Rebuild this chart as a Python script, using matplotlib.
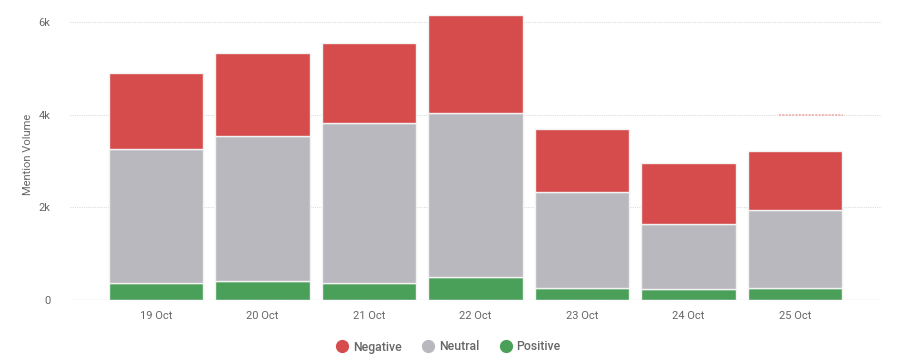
import matplotlib
matplotlib.use("Agg")
import matplotlib.pyplot as plt
from matplotlib.lines import Line2D
import numpy as np

plt.rcParams['font.family'] = ['Roboto', 'DejaVu Sans']

days = ["19 Oct", "20 Oct", "21 Oct", "22 Oct", "23 Oct", "24 Oct", "25 Oct"]
positive = [374, 417, 374, 504, 259, 237, 259]
neutral = [2878, 3130, 3439, 3525, 2065, 1410, 1691]
negative = [1641, 1777, 1727, 2129, 1359, 1317, 1273]
y_ticks = [0, 2000, 4000, 6000]
y_tick_labels = ["0", "2k", "4k", "6k"]

colors = {"Negative": "#d64b4b", "Neutral": "#b9b8bf", "Positive": "#4aa058"}
text_color = "#666666"

fig = plt.figure(figsize=(8.97, 3.6), dpi=100)
ax = fig.add_axes([0.078, 0.1667, 0.904, 0.8108])

x = np.arange(len(days))
pos = np.array(positive)
neu = np.array(neutral)
neg = np.array(negative)
w = 0.89
edge = dict(edgecolor="#f2f2f2", linewidth=1.0)
ax.bar(x, pos, w, color=colors["Positive"], zorder=3, **edge)
ax.bar(x, neu, w, bottom=pos, color=colors["Neutral"], zorder=3, **edge)
ax.bar(x, neg, w, bottom=pos + neu, color=colors["Negative"], zorder=3, **edge)

ax.set_xlim(-0.807, len(days) - 1 + 0.807)
ax.set_ylim(0, 6300)

# grid
for yv in y_ticks[1:]:
    ax.axhline(yv, color="#dddddd", linewidth=0.8, linestyle=(0, (1, 1)), zorder=1)
ax.axhline(0, color="#aab4dc", linewidth=0.9, linestyle=(0, (1, 1)), zorder=4)
# highlighted reference marker
ax.hlines(4000, 5.85, 6.45, color="#efb5b5", linewidth=1.4, linestyle=(0, (1, 0.7)), zorder=2)

for s in ax.spines.values():
    s.set_visible(False)
ax.set_xticks(x)
ax.set_xticklabels(days)
ax.set_yticks(y_ticks)
ax.set_yticklabels(y_tick_labels)
ax.tick_params(axis="both", length=0, labelsize=8, colors=text_color)
ax.tick_params(axis="x", pad=8)
ax.tick_params(axis="y", pad=14)
ax.set_ylabel("Mention Volume", fontsize=8, color=text_color, labelpad=4)

handles = [Line2D([0], [0], marker="o", linestyle="none", markersize=8.5,
                  markerfacecolor=colors[k], markeredgecolor=colors[k]) for k in ["Negative", "Neutral", "Positive"]]
leg = fig.legend(handles, ["Negative", "Neutral", "Positive"], loc="center",
                 bbox_to_anchor=(0.5, 1 - 347 / 360), ncol=3, frameon=False,
                 handletextpad=0.35, columnspacing=1.7, handlelength=1.0,
                 prop={"size": 8.8, "weight": "medium"})
for t in leg.get_texts():
    t.set_color(text_color)

fig.savefig("out.png", dpi=100, facecolor="white")
